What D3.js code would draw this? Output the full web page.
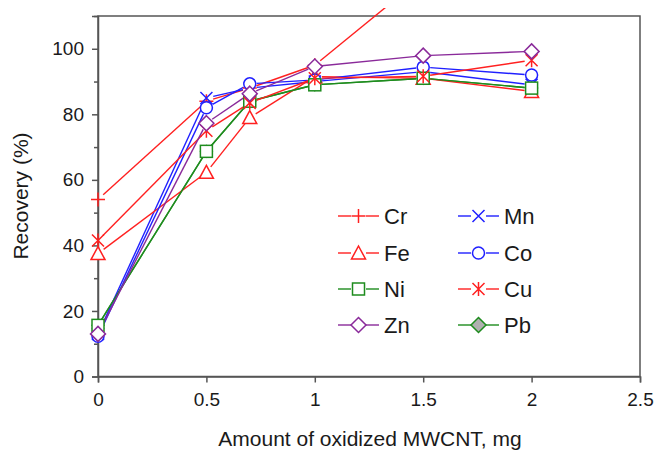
<!DOCTYPE html>
<html><head><meta charset="utf-8">
<script src="https://cdn.jsdelivr.net/npm/d3@7"></script>
<style>body{margin:0;background:#fff}svg{display:block}text{font-family:"Liberation Sans",Arial,sans-serif;fill:#1a1a1a}</style>
</head><body>
<script>
const xValues = [0, 0.5, 0.7, 1, 1.5, 2];
const Cr = [54, 84, 88, 95, 122, null];
const Mn = [13, 85, 88, 90, 93, 89];
const Co = [12.3, 82, 89.3, 90.5, 94.4, 92];
const Fe = [37.5, 62.3, 79, 91.5, 91, 87];
const Ni = [15.6, 68.7, 84, 89, 91, 88];
const Cu = [41.5, 75, 83.5, 91, 91.6, 96.5];
const Zn = [13, 77.3, 86.3, 94.6, 97.9, 99.2];
const Pb = [15.6, 68.7, 84, 89, 91, 88];
const xTicks = [0, 0.5, 1, 1.5, 2, 2.5];
const yTicks = [0, 20, 40, 60, 80, 100];
const yMinor = [10, 30, 50, 70, 90, 110];

const series = [
  {name:"Pb", data:Pb, color:"#1e8c1e", shape:"diamond", fill:"#b0b0b0", leg:[1,3], small:true},
  {name:"Cr", data:Cr, color:"#ff2020", shape:"plus", leg:[0,0]},
  {name:"Mn", data:Mn, color:"#2020ff", shape:"cross", leg:[1,0]},
  {name:"Fe", data:Fe, color:"#ff2020", shape:"triangle", leg:[0,1]},
  {name:"Co", data:Co, color:"#2020ff", shape:"circle", leg:[1,1]},
  {name:"Ni", data:Ni, color:"#1e8c1e", shape:"square", leg:[0,2]},
  {name:"Cu", data:Cu, color:"#ff2020", shape:"asterisk", leg:[1,2]},
  {name:"Zn", data:Zn, color:"#8a2a9a", shape:"diamond", fill:"#fff", leg:[0,3]}
];

const W=654,H=454, L=98, R=640, T=16, B=376.5;
const x = d3.scaleLinear().domain([0,2.5]).range([L,R]);
const y = d3.scaleLinear().domain([0,110]).range([B,T]);
const svg = d3.select("body").append("svg").attr("width",W).attr("height",H);

svg.append("defs").append("clipPath").attr("id","clip").append("rect")
  .attr("x",0).attr("y",8).attr("width",W).attr("height",H-8);

function drawMarker(g, shape, cx, cy, color, fill, k){
  k = k||1;
  const s=6*k;
  if(shape==="circle") g.append("circle").attr("cx",cx).attr("cy",cy).attr("r",s).attr("fill","#fff").attr("stroke",color).attr("stroke-width",1.5);
  else if(shape==="square") g.append("rect").attr("x",cx-s).attr("y",cy-s).attr("width",2*s).attr("height",2*s).attr("fill","#fff").attr("stroke",color).attr("stroke-width",1.5);
  else if(shape==="triangle") g.append("path").attr("d",`M${cx},${cy-7*k}L${cx+7*k},${cy+6*k}L${cx-7*k},${cy+6*k}Z`).attr("fill","#fff").attr("stroke",color).attr("stroke-width",1.5);
  else if(shape==="diamond") g.append("path").attr("d",`M${cx},${cy-7.5*k}L${cx+7.5*k},${cy}L${cx},${cy+7.5*k}L${cx-7.5*k},${cy}Z`).attr("fill",fill||"#fff").attr("stroke",color).attr("stroke-width",1.5);
  else if(shape==="plus") g.append("path").attr("d",`M${cx-7*k},${cy}H${cx+7*k}M${cx},${cy-7*k}V${cy+7*k}`).attr("stroke",color).attr("stroke-width",1.5).attr("fill","none");
  else if(shape==="cross") g.append("path").attr("d",`M${cx-6*k},${cy-6*k}L${cx+6*k},${cy+6*k}M${cx-6*k},${cy+6*k}L${cx+6*k},${cy-6*k}`).attr("stroke",color).attr("stroke-width",1.5);
  else if(shape==="asterisk") g.append("path").attr("d",`M${cx-6*k},${cy-6*k}L${cx+6*k},${cy+6*k}M${cx-6*k},${cy+6*k}L${cx+6*k},${cy-6*k}M${cx},${cy-7*k}V${cy+7*k}`).attr("stroke",color).attr("stroke-width",1.5);
}

// frame + axes first
svg.append("rect").attr("x",L).attr("y",T).attr("width",R-L).attr("height",B-T).attr("fill","none").attr("stroke","#555").attr("stroke-width",1.5);
svg.append("g").attr("transform",`translate(0,${B})`)
  .call(d3.axisBottom(x).tickValues(xTicks).tickFormat(d3.format("")).tickSize(6).tickPadding(10));
svg.append("g").attr("transform",`translate(${L},0)`)
  .call(d3.axisLeft(y).tickValues(yTicks).tickSize(6).tickPadding(8));
svg.append("g").attr("transform",`translate(${L},0)`)
  .call(d3.axisLeft(y).tickValues(yMinor).tickSize(4).tickFormat(""))
  .call(g=>g.select(".domain").remove());
svg.selectAll(".domain").attr("stroke","#555").attr("stroke-width",1.5);
svg.selectAll(".tick line").attr("stroke","#555").attr("stroke-width",1.5);
svg.selectAll(".tick text").attr("font-size",19).attr("font-family","Liberation Sans, Arial, sans-serif").attr("fill","#1a1a1a");

// series lines (segments with gaps at markers)
const lines = svg.append("g").attr("clip-path","url(#clip)");
series.forEach(s=>{
  const pts = xValues.map((xv,i)=>[xv,s.data[i]]);
  for(let i=0;i<pts.length-1;i++){
    const a=pts[i], b=pts[i+1];
    if(a[1]==null||b[1]==null) continue;
    const x1=x(a[0]),y1=y(a[1]),x2=x(b[0]),y2=y(b[1]);
    const len=Math.hypot(x2-x1,y2-y1), g=7;
    if(len<2*g) continue;
    const ux=(x2-x1)/len, uy=(y2-y1)/len;
    lines.append("line").attr("x1",x1+ux*g).attr("y1",y1+uy*g).attr("x2",x2-ux*g).attr("y2",y2-uy*g)
      .attr("stroke",s.color).attr("stroke-width",1.4);
  }
});
const marks = svg.append("g").attr("clip-path","url(#clip)");
series.forEach(s=>{
  xValues.forEach((xv,i)=>{ if(s.data[i]!=null) drawMarker(marks, s.shape, x(xv), y(s.data[i]), s.color, s.fill, s.small?0.78:1); });
});

svg.append("text").attr("x",370).attr("y",446).attr("text-anchor","middle").attr("font-size",21).text("Amount of oxidized MWCNT, mg");
svg.append("text").attr("transform","translate(28,196) rotate(-90)").attr("text-anchor","middle").attr("font-size",21).text("Recovery (%)");

// legend
const legCols=[338,458], legRows=[216,253,289,325];
const leg = svg.append("g");
series.forEach(s=>{
  const lx=legCols[s.leg[0]], ly=legRows[s.leg[1]];
  leg.append("line").attr("x1",lx).attr("x2",lx+13).attr("y1",ly).attr("y2",ly).attr("stroke",s.color).attr("stroke-width",1.4);
  leg.append("line").attr("x1",lx+28).attr("x2",lx+41).attr("y1",ly).attr("y2",ly).attr("stroke",s.color).attr("stroke-width",1.4);
  drawMarker(leg, s.shape, lx+20.5, ly, s.color, s.fill);
  leg.append("text").attr("x",lx+46).attr("y",ly).attr("dy","0.36em").attr("font-size",22).text(s.name);
});
</script>
</body></html>
